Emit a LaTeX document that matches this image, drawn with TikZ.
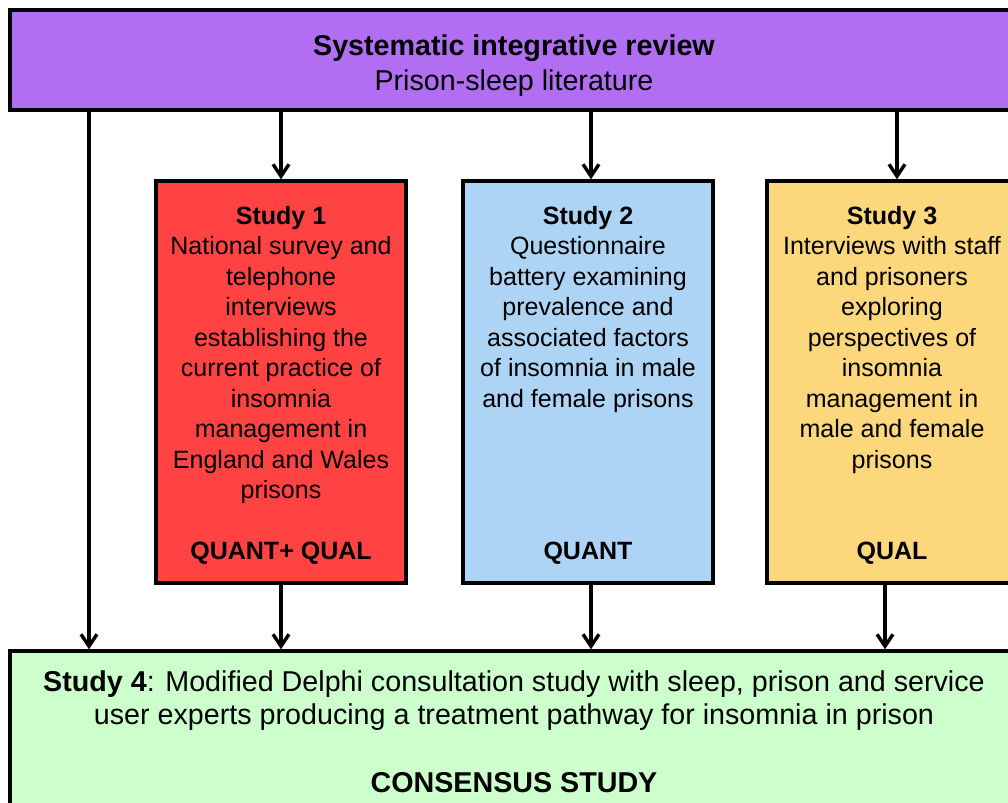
\documentclass[tikz,border=0pt]{standalone}
\usepackage{fontspec}
\setmainfont{Liberation Sans}
\usetikzlibrary{positioning,arrows.meta}

\definecolor{reviewpurple}{HTML}{B16EF2}
\definecolor{studyred}{HTML}{FF4343}
\definecolor{studyblue}{HTML}{ADD3F5}
\definecolor{studyyellow}{HTML}{FCD77B}
\definecolor{consgreen}{HTML}{CCFFCC}

\tikzset{
	bigbox/.style={draw, rectangle, line width=2.4pt, minimum width=25.2cm},
	studybox/.style={draw, rectangle, line width=2.4pt, minimum width=6.25cm, minimum height=10.05cm},
	bigtext/.style={align=center, font=\fontsize{20.4}{24.6}\selectfont},
	studytext/.style={align=center, font=\fontsize{17.8}{21.7}\selectfont},
	link/.style={-{Straight Barb[length=3mm, width=4mm]}, line width=2.4pt}
}

\begin{document}
\begin{tikzpicture}
		
		\path[use as bounding box, clip] (0,0) rectangle (25.2,-20.075);
		
		%Review block
		\node (review) at (12.85,-1.5) [bigbox, fill=reviewpurple, minimum height=2.5cm]{};
		\node (reviewText) at (12.85,-1.64) [bigtext]{\textbf{Systematic integrative review}\\Prison-sleep literature};
		
		%Studies 1-3
		\node (study1) at (7.025,-9.55) [studybox, fill=studyred]{};
		\node (study2) at (14.7,-9.55) [studybox, fill=studyblue]{};
		\node (study3) at (22.3,-9.55) [studybox, fill=studyyellow]{};
		
		\node (study1Text) [studytext, below=0.54cm of study1.north]{\textbf{Study 1}\\National survey and\\telephone\\interviews\\establishing the\\current practice of\\insomnia\\management in\\England and Wales\\prisons};
		\node (study2Text) [studytext, below=0.54cm of study2.north]{\textbf{Study 2}\\Questionnaire\\battery examining\\prevalence and\\associated factors\\of insomnia in male\\and female prisons};
		\node (study3Text) [studytext, below=0.54cm of study3.north]{\textbf{Study 3}\\Interviews with staff\\and prisoners\\exploring\\perspectives of\\insomnia\\management in\\male and female\\prisons};
		
		%Methods
		\node (study1Method) [studytext, above=0.39cm of study1.south]{\textbf{QUANT+ QUAL}};
		\node (study2Method) [studytext, above=0.39cm of study2.south]{\textbf{QUANT}};
		\node (study3Method) [studytext, above=0.39cm of study3.south]{\textbf{QUAL}};
		
		%Study 4
		\node (study4) at (12.85,-18.775) [bigbox, fill=consgreen, minimum height=5cm]{};
		\node (study4Text) [bigtext, below=0.4cm of study4.north, align=center, font=\fontsize{20.4}{24.1}\selectfont]{\textbf{Study 4}: Modified Delphi consultation study with sleep, prison and service\\user experts producing a treatment pathway for insomnia in prison\\[24.1pt]\textbf{CONSENSUS STUDY}};
		
		%Links
		\coordinate (leftLine) at (2.225,0);
		\draw[link] (review.south -| leftLine) -- (study4.north -| leftLine);
		\draw[link] (study1.north |- review.south) -- (study1.north);
		\draw[link] ([xshift=0.075cm]study2.north |- review.south) -- ([xshift=0.075cm]study2.north);
		\draw[link] ([xshift=0.125cm]study3.north |- review.south) -- ([xshift=0.125cm]study3.north);
		\draw[link] (study1.south) -- (study1.south |- study4.north);
		\draw[link] ([xshift=0.075cm]study2.south) -- ([xshift=0.075cm]study2.south |- study4.north);
		\draw[link] ([xshift=-0.175cm]study3.south) -- ([xshift=-0.175cm]study3.south |- study4.north);
		
\end{tikzpicture}
\end{document}
